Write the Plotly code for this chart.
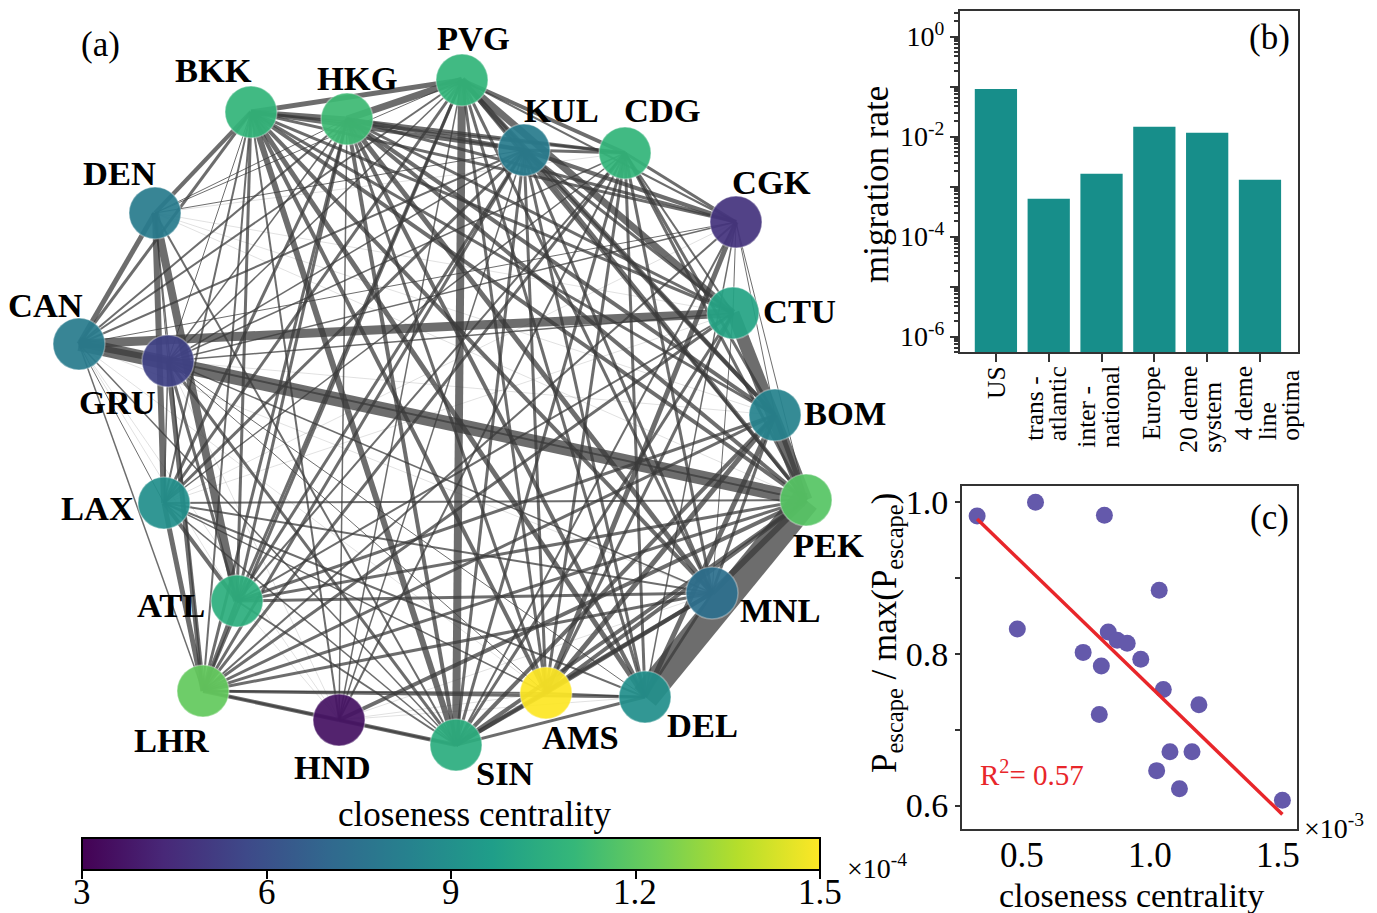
import numpy as np
import plotly.graph_objects as go

FONT = "Liberation Serif"

# ---------------- (a) airport network ----------------
airports = ["PVG", "BKK", "HKG", "KUL", "CDG", "CGK", "DEN", "CAN", "GRU", "CTU",
            "BOM", "PEK", "LAX", "ATL", "MNL", "LHR", "AMS", "DEL", "HND", "SIN"]
# layout coordinates of the nodes (layout units, y grows downward)
layout_x = [462, 251, 347, 524, 625, 736, 155, 79, 168, 733,
            775, 806, 164, 237, 712, 203, 546, 645, 339, 456]
layout_y = [80, 112, 119, 150, 153, 222, 213, 344, 361, 313,
            415, 500, 503, 601, 593, 691, 693, 697, 720, 745]
closeness = [10.9e-4, 10.9e-4, 11.2e-4, 8.0e-4, 10.9e-4, 4.8e-4, 8.0e-4, 8.0e-4, 5.4e-4, 10.0e-4,
             8.4e-4, 11.8e-4, 9.0e-4, 10.6e-4, 7.4e-4, 12.1e-4, 15.0e-4, 9.0e-4, 3.6e-4, 10.5e-4]
cbar_ticks = [3e-4, 6e-4, 9e-4, 12e-4, 15e-4]
cbar_ticktext = ["3", "6", "9", "1.2", "1.5"]

# routes: (origin, destination, traffic weight)
routes = [
    ("PVG", "BKK", 5), ("PVG", "HKG", 7), ("PVG", "KUL", 5), ("PVG", "CDG", 4), ("PVG", "CGK", 2),
    ("PVG", "CTU", 7), ("PVG", "PEK", 3), ("PVG", "BOM", 4), ("PVG", "MNL", 3), ("PVG", "DEL", 3),
    ("PVG", "AMS", 3), ("PVG", "SIN", 8), ("PVG", "LHR", 3), ("PVG", "LAX", 3), ("PVG", "ATL", 3),
    ("PVG", "GRU", 1.5), ("PVG", "CAN", 2), ("PVG", "DEN", 1), ("PVG", "HND", 1.5),
    ("BKK", "HKG", 5), ("BKK", "KUL", 4), ("BKK", "CDG", 3), ("BKK", "CGK", 3), ("BKK", "CTU", 3),
    ("BKK", "BOM", 3), ("BKK", "PEK", 4), ("BKK", "MNL", 4), ("BKK", "DEL", 5), ("BKK", "AMS", 4),
    ("BKK", "SIN", 6), ("BKK", "LHR", 2), ("BKK", "LAX", 2), ("BKK", "ATL", 3), ("BKK", "GRU", 1),
    ("BKK", "CAN", 3), ("BKK", "DEN", 4), ("BKK", "HND", 2),
    ("HKG", "KUL", 4), ("HKG", "CDG", 3), ("HKG", "CGK", 3), ("HKG", "CTU", 3), ("HKG", "BOM", 4),
    ("HKG", "PEK", 4), ("HKG", "MNL", 5), ("HKG", "DEL", 4), ("HKG", "AMS", 3), ("HKG", "SIN", 4),
    ("HKG", "HND", 1.5), ("HKG", "LHR", 3), ("HKG", "LAX", 3), ("HKG", "ATL", 3), ("HKG", "GRU", 1.5),
    ("HKG", "CAN", 2), ("HKG", "DEN", 1),
    ("KUL", "CDG", 3), ("KUL", "CGK", 4), ("KUL", "CTU", 3), ("KUL", "BOM", 4), ("KUL", "PEK", 4),
    ("KUL", "MNL", 3), ("KUL", "DEL", 3), ("KUL", "AMS", 3), ("KUL", "SIN", 3), ("KUL", "LHR", 3),
    ("KUL", "LAX", 3), ("KUL", "ATL", 3), ("KUL", "GRU", 1.5), ("KUL", "CAN", 2), ("KUL", "DEN", 1),
    ("KUL", "HND", 1.5),
    ("CDG", "CGK", 3), ("CDG", "CTU", 2), ("CDG", "BOM", 3), ("CDG", "PEK", 3), ("CDG", "MNL", 3),
    ("CDG", "DEL", 3), ("CDG", "AMS", 3), ("CDG", "SIN", 3), ("CDG", "HND", 2), ("CDG", "LHR", 3),
    ("CDG", "ATL", 2), ("CDG", "LAX", 1.5), ("CDG", "GRU", 1.5), ("CDG", "DEN", 0.5),
    ("CGK", "CTU", 1), ("CGK", "BOM", 1), ("CGK", "PEK", 1), ("CGK", "AMS", 5), ("CGK", "DEL", 1.5),
    ("CGK", "SIN", 2), ("CGK", "LHR", 2), ("CGK", "GRU", 1.5), ("CGK", "CAN", 1), ("CGK", "LAX", 0.5),
    ("DEN", "CAN", 5), ("DEN", "GRU", 1), ("DEN", "LAX", 6), ("DEN", "ATL", 8), ("DEN", "LHR", 1.5),
    ("DEN", "SIN", 2), ("DEN", "CTU", 0.5), ("DEN", "PEK", 0.5), ("DEN", "BOM", 0.5),
    ("CAN", "GRU", 6), ("CAN", "CTU", 9), ("CAN", "PEK", 14), ("CAN", "LAX", 1), ("CAN", "LHR", 1.5),
    ("CAN", "SIN", 1.5), ("CAN", "ATL", 0.5), ("CAN", "MNL", 0.5), ("CAN", "HND", 0.5), ("CAN", "AMS", 0.5),
    ("GRU", "CTU", 1.5), ("GRU", "PEK", 2), ("GRU", "MNL", 1.5), ("GRU", "DEL", 1), ("GRU", "AMS", 1),
    ("GRU", "SIN", 3), ("GRU", "LHR", 5), ("GRU", "ATL", 3), ("GRU", "LAX", 1.5), ("GRU", "BOM", 0.5),
    ("GRU", "HND", 0.5),
    ("CTU", "PEK", 13), ("CTU", "SIN", 3), ("CTU", "LHR", 3), ("CTU", "ATL", 2), ("CTU", "AMS", 3),
    ("CTU", "MNL", 1), ("CTU", "LAX", 0.5),
    ("BOM", "PEK", 5), ("BOM", "MNL", 3), ("BOM", "DEL", 5), ("BOM", "AMS", 5), ("BOM", "SIN", 4),
    ("BOM", "LHR", 3), ("BOM", "ATL", 3),
    ("PEK", "MNL", 6), ("PEK", "DEL", 28), ("PEK", "AMS", 4), ("PEK", "SIN", 4), ("PEK", "HND", 4),
    ("PEK", "LHR", 3), ("PEK", "ATL", 3), ("PEK", "LAX", 2),
    ("LAX", "ATL", 4), ("LAX", "LHR", 5), ("LAX", "MNL", 2), ("LAX", "DEL", 2), ("LAX", "SIN", 1.5),
    ("LAX", "AMS", 1.5),
    ("ATL", "LHR", 4), ("ATL", "MNL", 3), ("ATL", "SIN", 2), ("ATL", "HND", 0.5),
    ("MNL", "DEL", 3), ("MNL", "SIN", 4), ("MNL", "LHR", 3), ("MNL", "AMS", 4), ("MNL", "HND", 0.5),
    ("LHR", "HND", 4), ("LHR", "SIN", 2), ("LHR", "AMS", 2), ("LHR", "DEL", 3),
    ("AMS", "DEL", 2), ("AMS", "SIN", 4), ("AMS", "HND", 0.5),
    ("DEL", "SIN", 3), ("DEL", "HND", 0.5),
    ("HND", "SIN", 4),
]

# ---------------- (b) migration rates ----------------
region_labels = [["US"], ["trans -", "atlantic"], ["inter -", "national"], ["Europe"],
                 ["20 deme", "system"], ["4 deme", "line", "optima"]]
migration_rate = [8.9e-2, 5.7e-4, 1.8e-3, 1.56e-2, 1.19e-2, 1.36e-3]

# ---------------- (c) escape probability vs closeness ----------------
cc_scatter = [0.325, 0.553, 0.822, 1.036, 0.482, 0.837, 0.872, 0.911, 0.739, 0.810,
              0.964, 1.052, 1.191, 0.802, 1.078, 1.164, 1.026, 1.115, 1.517]  # ×1e-3
p_escape_rel = [0.982, 1.000, 0.983, 0.884, 0.833, 0.829, 0.818, 0.814, 0.802, 0.784,
                0.793, 0.753, 0.733, 0.720, 0.671, 0.671, 0.646, 0.622, 0.607]
cc_ticks = [0.5, 1.0, 1.5]
r_squared_label = "0.57"

# label offsets of airport names relative to their node (layout units)
LABEL_OFFSET = {
    "PVG": (11, -42), "BKK": (-38, -42), "HKG": (10, -41), "KUL": (37, -40), "CDG": (37, -43),
    "CGK": (35, -40), "DEN": (-36, -40), "CAN": (-34, -39), "GRU": (-51, 41), "CTU": (66, -2),
    "BOM": (70, -2), "PEK": (22, 45), "LAX": (-67, 5), "ATL": (-66, 4), "MNL": (68, 17),
    "LHR": (-31, 49), "AMS": (34, 44), "DEL": (57, 28), "HND": (-7, 47), "SIN": (49, 28),
}

# serif advance widths (per 1000 em) used to stack the rotated category labels
GLYPH_W = {" ": 250, "-": 333, "0": 500, "2": 500, "4": 500, "a": 444, "c": 444, "d": 500,
           "e": 444, "i": 278, "l": 278, "m": 778, "n": 500, "o": 500, "p": 500, "r": 333,
           "s": 389, "t": 278, "u": 500, "y": 500, "E": 611, "U": 722, "S": 556}
CAT_FONT = 25.5
CAT_LINE_GAP = 24
CAT_NUDGE = [0, -3, -3, -3, -7, 7]


def text_len(s, size):
    return sum(GLYPH_W.get(ch, 500) for ch in s) * size / 1000.0


W, H = 1377, 913
CB_LEFT, CB_LEN = 82, 738          # colour bar placement (px)
CMIN, CMAX = 3e-4, 15e-4
fig = go.Figure()
idx = {a: i for i, a in enumerate(airports)}

# edges, thinnest first so the heavy routes sit on top
for a, b, w in sorted(routes, key=lambda r: r[2]):
    i, j = idx[a], idx[b]
    if w < 1:
        col, lw = "rgba(130,130,130,0.35)", 0.7
    else:
        col, lw = "rgba(58,58,58,0.74)", w
    fig.add_trace(go.Scatter(
        x=[layout_x[i], layout_x[j]], y=[layout_y[i], layout_y[j]],
        mode="lines", line=dict(color=col, width=lw),
        hoverinfo="skip", showlegend=False, xaxis="x", yaxis="y"))

fig.add_trace(go.Scatter(
    x=layout_x, y=layout_y, mode="markers", text=airports, hoverinfo="text",
    marker=dict(size=52, color=closeness, colorscale="Viridis", cmin=CMIN, cmax=CMAX,
                opacity=0.93, line=dict(color="rgba(255,255,255,0.35)", width=1.5),
                showscale=True,
                colorbar=dict(orientation="h", x=(CB_LEFT + CB_LEN / 2) / W, xanchor="center",
                              y=1 - 838 / H, yanchor="top", len=CB_LEN, lenmode="pixels",
                              thickness=32, outlinewidth=2, outlinecolor="black",
                              xpad=0, ypad=0, ticks="outside", ticklen=8, tickwidth=2,
                              tickcolor="black", tickvals=cbar_ticks,
                              showticklabels=False)),
    showlegend=False, xaxis="x", yaxis="y"))

# ---- bars ----
xb = list(range(len(migration_rate)))
fig.add_trace(go.Bar(x=xb, y=migration_rate, marker=dict(color="#178e8a", line=dict(width=0)),
                     width=0.8, showlegend=False, xaxis="x2", yaxis="y2"))

# ---- scatter + fit ----
cx = np.array(cc_scatter)
cy = np.array(p_escape_rel)
slope, intercept = np.polyfit(cx, cy, 1)
fx = np.array([cx.min(), cx.max()])
fig.add_trace(go.Scatter(x=cx, y=cy, mode="markers",
                         marker=dict(size=17, color="#6459ab"), showlegend=False,
                         xaxis="x3", yaxis="y3"))
fig.add_trace(go.Scatter(x=fx, y=slope * fx + intercept, mode="lines",
                         line=dict(color="#e8262a", width=3.5), showlegend=False,
                         xaxis="x3", yaxis="y3"))

annotations = []
for k, a in enumerate(airports):
    dx, dy = LABEL_OFFSET[a]
    annotations.append(dict(x=layout_x[k] + dx, y=layout_y[k] + dy, xref="x", yref="y",
                            xanchor="center", yanchor="middle",
                            text=a, showarrow=False,
                            font=dict(family=FONT, size=34.5, color="black", weight="bold")))

# bar category labels: rotated lines, starts aligned, block hanging below the axis
CAT_TOP = 367
for i, lines in enumerate(region_labels):
    n = len(lines)
    block = max(text_len(s, CAT_FONT) for s in lines)
    for j, line in enumerate(lines):
        annotations.append(dict(x=xb[i], y=1 - (CAT_TOP + block) / H, xref="x2", yref="paper",
                                text=line, showarrow=False, textangle=-90,
                                xanchor="center", yanchor="bottom", borderpad=0,
                                xshift=(j - (n - 1) / 2) * CAT_LINE_GAP + CAT_NUDGE[i],
                                font=dict(family=FONT, size=CAT_FONT, color="black")))

txt = dict(family=FONT, color="black")

# colour bar tick labels
for v, t in zip(cbar_ticks, cbar_ticktext):
    px = CB_LEFT + (v - CMIN) / (CMAX - CMIN) * CB_LEN
    annotations.append(dict(x=px / W, y=1 - 892 / H, xref="paper", yref="paper", text=t,
                            showarrow=False, xanchor="center", yanchor="middle",
                            font=dict(txt, size=35)))

# closeness tick labels of panel (c)
for v in cc_ticks:
    annotations.append(dict(x=v, y=1 - 855 / H, xref="x3", yref="paper", text="%.1f" % v,
                            showarrow=False, xanchor="center", yanchor="middle",
                            font=dict(txt, size=35)))


def note(px, py, text, size, **kw):
    d = dict(x=px / W, y=1 - py / H, xref="paper", yref="paper", text=text, showarrow=False,
             xanchor="center", yanchor="middle", font=dict(txt, size=size))
    d.update(kw)
    return d


annotations += [
    note(100, 45, "(a)", 35),
    note(475, 814, "closeness centrality", 35),
    note(845, 866, "×10<sup>-4</sup>", 28, xanchor="left"),
    note(1269, 37, "(b)", 35),
    note(876, 185, "migration rate", 35, textangle=-90),
    note(1269, 517, "(c)", 35),
    note(886, 633, "P<sub>escape</sub> / max(P<sub>escape</sub>)", 35, textangle=-90),
    note(1131, 895, "closeness centrality", 34),
    note(1302, 826, "×10<sup>-3</sup>", 28, xanchor="left"),
    note(1032, 773, "R<sup>2</sup>= " + r_squared_label, 29,
         font=dict(family=FONT, size=29, color="#e8262a")),
]

decades = list(range(-6, 1))
log_major = [10.0 ** e for e in decades]
log_text = ["10<sup>%d</sup>" % e if e % 2 == 0 else "" for e in decades]
log_minor = [m * 10.0 ** e for e in range(-7, 1) for m in range(2, 10)]

frame = dict(showline=True, linewidth=2, linecolor="#333", mirror=True, showgrid=False,
             zeroline=False)

fig.update_layout(
    width=W, height=H, margin=dict(l=0, r=0, t=0, b=0, autoexpand=False),
    paper_bgcolor="white", plot_bgcolor="rgba(0,0,0,0)",
    font=dict(family=FONT, color="black"),
    annotations=annotations,
    xaxis=dict(domain=[0, 860 / W], range=[0, 860], visible=False),
    yaxis=dict(domain=[1 - 800 / H, 1], range=[800, 0], visible=False),
    xaxis2=dict(domain=[960 / W, 1298 / W], range=[-0.68, 5.72], anchor="y2",
                tickvals=xb, ticktext=[""] * len(xb), ticks="outside", ticklen=8,
                tickwidth=2, tickcolor="#333", **frame),
    yaxis2=dict(domain=[1 - 352 / H, 1 - 11 / H], type="log", range=[-6.31, 0.51],
                anchor="x2", tickvals=log_major, ticktext=log_text, ticks="outside",
                ticklen=8, tickwidth=2, tickcolor="#333",
                minor=dict(tickmode="array", tickvals=log_minor, ticks="outside",
                           ticklen=4, tickwidth=1.5, tickcolor="#333"),
                tickfont=dict(family=FONT, size=28), **frame),
    xaxis3=dict(domain=[962 / W, 1297 / W], range=[0.266, 1.574], anchor="y3",
                showticklabels=False, ticks="", **frame),
    yaxis3=dict(domain=[1 - 829 / H, 1 - 486 / H], range=[0.569, 1.0215], anchor="x3",
                tickvals=[0.6, 0.7, 0.8, 0.9, 1.0], ticktext=["0.6", "", "0.8", "", "1.0"],
                ticks="outside", ticklen=5, tickwidth=2, tickcolor="#333",
                tickfont=dict(family=FONT, size=34), **frame),
)

fig.write_html("out.html")
